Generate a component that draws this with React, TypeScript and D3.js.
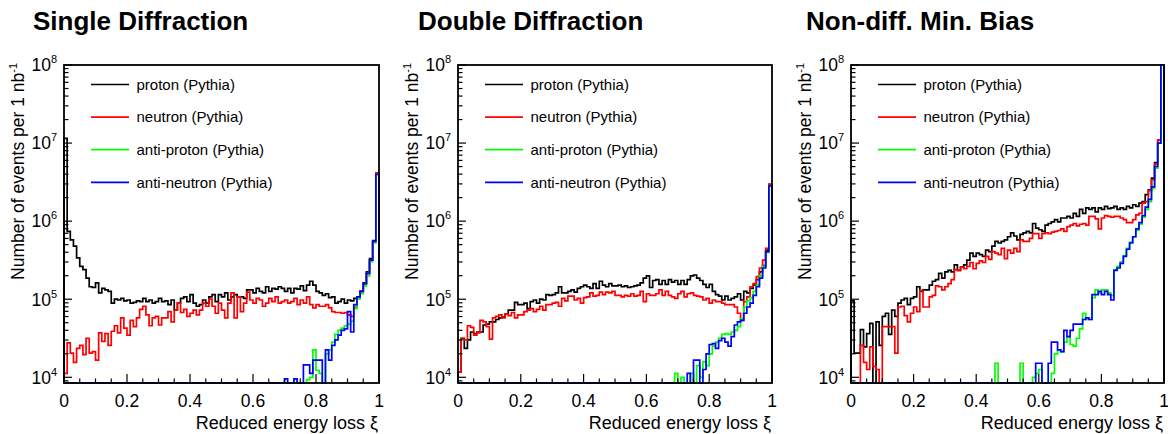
import React from 'react';
import * as d3 from 'd3';

// ---------- data (log10 of events per bin, 100 bins over xi in [0,1]; 0 = empty bin) ----------
const panelTitles = ['Single Diffraction', 'Double Diffraction', 'Non-diff. Min. Bias'];
const seriesNames = ['proton (Pythia)', 'neutron (Pythia)', 'anti-proton (Pythia)', 'anti-neutron (Pythia)'];
const seriesColors = ['#000000', '#ff0000', '#00ff00', '#0000ff'];
const xTickValues = [0, 0.2, 0.4, 0.6, 0.8, 1];
const xTickLabels = ['0', '0.2', '0.4', '0.6', '0.8', '1'];
const yDecades = [4, 5, 6, 7, 8];
const xTitle = 'Reduced energy loss ξ';
const yTitle = 'Number of events per 1 nb';
const yTitleSup = '-1';

const sdProton = [
  7.06, 5.87, 5.76, 5.68, 5.53, 5.42, 5.38, 5.27, 5.16, 5.15,
  5.21, 5.08, 5.14, 5.12, 5.10, 4.95, 5.00, 4.99, 5.01, 4.98,
  4.99, 4.95, 4.96, 4.98, 4.97, 5.01, 4.97, 4.99, 4.95, 4.97,
  5.01, 4.97, 4.98, 4.93, 4.99, 4.86, 4.95, 5.01, 5.03, 4.97,
  5.06, 4.95, 4.91, 4.93, 4.99, 4.95, 5.03, 5.06, 4.97, 5.06,
  5.03, 5.08, 4.99, 5.03, 5.06, 5.03, 5.03, 5.01, 5.12, 5.12,
  5.08, 5.14, 5.10, 5.08, 5.16, 5.10, 5.14, 5.13, 5.16, 5.14,
  5.10, 5.14, 5.08, 5.14, 5.13, 5.17, 5.11, 5.18, 5.23, 5.18,
  5.10, 5.08, 5.05, 5.07, 5.02, 5.03, 4.95, 4.97, 5.00, 4.95,
  4.99, 4.98, 5.01, 5.03, 5.10, 5.21, 5.35, 5.52, 5.75, 6.62,
];
const sdNeutron = [
  4.05, 4.44, 4.31, 4.19, 4.37, 4.41, 4.29, 4.50, 4.31, 4.33,
  4.22, 4.57, 4.46, 4.56, 4.41, 4.59, 4.66, 4.57, 4.76, 4.63,
  4.54, 4.73, 4.65, 4.76, 4.87, 4.91, 4.80, 4.66, 4.76, 4.78,
  4.67, 4.76, 4.76, 4.84, 4.71, 4.86, 4.95, 4.83, 4.87, 4.78,
  4.82, 4.86, 4.80, 4.86, 4.95, 4.91, 5.00, 4.91, 4.82, 4.95,
  4.86, 4.76, 4.95, 5.08, 4.76, 5.03, 4.84, 4.95, 5.09, 4.99,
  4.95, 5.01, 4.99, 4.91, 4.95, 5.01, 4.97, 5.03, 4.95, 4.97,
  4.99, 4.95, 4.97, 5.01, 4.93, 4.99, 4.95, 5.03, 4.93, 4.89,
  4.93, 4.91, 4.91, 4.93, 4.89, 4.84, 4.83, 4.83, 4.82, 4.83,
  4.80, 4.78, 4.90, 5.03, 5.10, 5.20, 5.33, 5.50, 5.74, 6.62,
];
const sdAntiProton = [
  0, 0, 0, 0, 0, 0, 0, 0, 0, 0,
  0, 0, 0, 0, 0, 0, 0, 0, 0, 0,
  0, 0, 0, 0, 0, 0, 0, 0, 0, 0,
  0, 0, 0, 0, 0, 0, 0, 0, 0, 0,
  0, 0, 0, 0, 0, 0, 0, 0, 0, 0,
  0, 0, 0, 0, 0, 0, 0, 0, 0, 0,
  0, 0, 0, 0, 0, 0, 0, 0, 0, 0,
  0, 0, 0, 3.98, 0, 0, 0, 3.97, 4.00, 4.35,
  4.09, 4.05, 0, 4.30, 4.35, 4.45, 4.55, 4.60, 4.63, 4.66,
  4.68, 4.72, 4.88, 5.00, 5.07, 5.17, 5.30, 5.48, 5.72, 6.60,
];
const sdAntiNeutron = [
  0, 0, 0, 0, 0, 0, 0, 0, 0, 0,
  0, 0, 0, 0, 0, 0, 0, 0, 0, 0,
  0, 0, 0, 0, 0, 0, 0, 0, 0, 0,
  0, 0, 0, 0, 0, 0, 0, 0, 0, 0,
  0, 0, 0, 0, 0, 0, 0, 0, 0, 0,
  0, 0, 0, 0, 0, 0, 0, 0, 0, 0,
  0, 0, 0, 0, 0, 0, 0, 0, 0, 0,
  3.98, 0, 0, 3.98, 0, 0, 4.16, 4.16, 4.05, 4.22,
  4.22, 4.22, 0, 4.35, 4.22, 4.41, 4.48, 4.54, 4.60, 4.62,
  4.84, 4.58, 4.93, 5.03, 5.10, 5.20, 5.33, 5.50, 5.74, 6.60,
];

const ddProton = [
  4.07, 4.50, 4.37, 4.48, 4.58, 4.56, 4.58, 4.58, 4.67, 4.68,
  4.71, 4.71, 4.74, 4.76, 4.77, 4.81, 4.86, 4.86, 4.96, 4.93,
  4.93, 4.95, 4.88, 4.97, 4.99, 4.95, 5.00, 4.99, 5.06, 5.05,
  5.06, 5.08, 5.16, 5.08, 5.08, 5.10, 5.12, 5.09, 5.14, 5.16,
  5.18, 5.16, 5.14, 5.20, 5.14, 5.23, 5.18, 5.16, 5.20, 5.17,
  5.17, 5.18, 5.16, 5.17, 5.15, 5.16, 5.17, 5.18, 5.21, 5.27,
  5.30, 5.15, 5.24, 5.25, 5.19, 5.24, 5.19, 5.25, 5.22, 5.24,
  5.19, 5.24, 5.19, 5.25, 5.30, 5.31, 5.27, 5.24, 5.19, 5.15,
  5.19, 5.10, 5.06, 5.04, 4.99, 5.04, 4.99, 5.01, 5.03, 5.07,
  4.99, 5.10, 5.08, 5.14, 5.18, 5.25, 5.35, 5.43, 5.63, 6.47,
];
const ddNeutron = [
  4.07, 4.49, 4.48, 4.66, 4.64, 4.54, 4.57, 4.73, 4.71, 4.65,
  4.49, 4.76, 4.78, 4.80, 4.76, 4.81, 4.79, 4.83, 4.76, 4.80,
  4.80, 4.84, 4.86, 4.88, 4.84, 4.87, 4.91, 4.86, 4.93, 4.93,
  4.95, 4.96, 4.91, 5.01, 4.98, 5.04, 5.04, 4.99, 5.01, 4.95,
  5.02, 5.03, 5.08, 5.04, 5.05, 5.09, 5.06, 5.09, 5.08, 5.10,
  5.05, 5.05, 5.03, 5.05, 5.04, 5.07, 5.04, 5.05, 5.10, 4.97,
  5.07, 5.05, 5.05, 5.07, 5.12, 5.05, 5.10, 5.05, 5.03, 5.01,
  5.07, 5.10, 5.03, 5.07, 5.08, 5.05, 5.04, 5.03, 4.99, 5.01,
  4.95, 4.99, 4.97, 4.97, 4.95, 4.93, 4.93, 4.93, 4.90, 4.82,
  4.73, 4.97, 5.03, 5.16, 5.20, 5.29, 5.40, 5.50, 5.65, 6.47,
];
const ddAntiProton = [
  0, 0, 0, 0, 0, 0, 0, 0, 0, 0,
  0, 0, 0, 0, 0, 0, 0, 0, 0, 0,
  0, 0, 0, 0, 0, 0, 0, 0, 0, 0,
  0, 0, 0, 0, 0, 0, 0, 0, 0, 0,
  0, 0, 0, 0, 0, 0, 0, 0, 0, 0,
  0, 0, 0, 0, 0, 0, 0, 0, 0, 0,
  0, 0, 0, 0, 0, 0, 0, 0, 0, 4.05,
  0, 4.00, 0, 0, 4.05, 0, 4.15, 4.00, 4.20, 4.15,
  4.30, 4.40, 4.45, 4.50, 4.55, 4.56, 4.55, 4.58, 4.60, 4.65,
  4.75, 4.90, 4.98, 5.02, 5.10, 5.18, 5.30, 5.42, 5.60, 6.45,
];
const ddAntiNeutron = [
  0, 0, 0, 0, 0, 0, 0, 0, 0, 0,
  0, 0, 0, 0, 0, 0, 0, 0, 0, 0,
  0, 0, 0, 0, 0, 0, 0, 0, 0, 0,
  0, 0, 0, 0, 0, 0, 0, 0, 0, 0,
  0, 0, 0, 0, 0, 0, 0, 0, 0, 0,
  0, 0, 0, 0, 0, 0, 0, 0, 0, 0,
  0, 0, 0, 0, 0, 0, 0, 0, 0, 0,
  0, 0, 0, 4.05, 0, 4.22, 4.22, 0, 4.10, 4.30,
  4.42, 4.43, 4.37, 4.47, 4.50, 4.45, 4.40, 4.52, 4.67, 4.71,
  4.73, 4.82, 4.90, 4.95, 5.05, 5.16, 5.27, 5.40, 5.61, 6.45,
];

const ndProton = [
  4.98, 4.31, 4.31, 4.61, 4.39, 4.56, 4.69, 0, 4.71, 4.41,
  4.78, 4.82, 4.55, 4.86, 4.78, 4.95, 4.99, 5.01, 4.93, 5.01,
  5.03, 5.16, 5.10, 5.12, 5.12, 5.18, 5.23, 5.25, 5.33, 5.27,
  5.35, 5.37, 5.35, 5.44, 5.37, 5.41, 5.44, 5.50, 5.59, 5.55,
  5.59, 5.57, 5.55, 5.63, 5.61, 5.68, 5.74, 5.72, 5.74, 5.76,
  5.80, 5.85, 5.81, 5.76, 5.83, 5.85, 5.87, 5.85, 5.97, 5.91,
  5.89, 5.87, 5.95, 5.97, 5.99, 6.02, 5.99, 6.04, 6.04, 6.06,
  6.04, 6.10, 6.06, 6.15, 6.10, 6.17, 6.15, 6.17, 6.12, 6.17,
  6.15, 6.19, 6.16, 6.17, 6.19, 6.15, 6.17, 6.15, 6.19, 6.17,
  6.21, 6.19, 6.23, 6.25, 6.34, 6.40, 6.55, 6.75, 7.04, 8.10,
];
const ndNeutron = [
  0, 0, 0, 4.41, 4.19, 4.10, 4.39, 4.14, 4.10, 0,
  4.65, 4.65, 4.65, 4.65, 4.31, 4.90, 4.91, 4.79, 4.71, 4.82,
  4.90, 4.84, 5.11, 4.90, 4.90, 5.03, 5.05, 5.17, 5.16, 5.12,
  5.16, 5.20, 5.25, 5.38, 5.37, 5.41, 5.39, 5.42, 5.47, 5.39,
  5.46, 5.49, 5.47, 5.55, 5.51, 5.61, 5.59, 5.57, 5.65, 5.52,
  5.63, 5.59, 5.65, 5.61, 5.76, 5.74, 5.74, 5.78, 5.84, 5.84,
  5.78, 5.84, 5.85, 5.84, 5.86, 5.87, 5.88, 5.90, 5.87, 5.93,
  5.95, 5.97, 5.94, 5.96, 5.97, 5.95, 6.06, 6.06, 6.03, 5.90,
  6.04, 6.07, 6.06, 6.05, 6.06, 6.06, 6.04, 6.02, 5.98, 5.98,
  6.02, 6.08, 6.10, 6.23, 6.25, 6.39, 6.53, 6.73, 7.04, 8.10,
];
const ndAntiProton = [
  0, 0, 0, 0, 0, 0, 0, 0, 0, 0,
  0, 0, 0, 0, 0, 0, 0, 0, 0, 0,
  0, 0, 0, 0, 0, 0, 0, 0, 0, 0,
  0, 0, 0, 0, 0, 0, 0, 0, 0, 0,
  0, 0, 0, 0, 0, 0, 4.18, 0, 0, 0,
  0, 0, 0, 0, 4.18, 0, 0, 0, 4.00, 4.05,
  4.10, 0, 0, 0, 4.05, 4.30, 4.35, 4.33, 4.45, 4.52,
  4.42, 4.40, 4.50, 4.62, 4.82, 4.74, 4.74, 5.02, 5.12, 5.08,
  5.12, 5.12, 5.08, 5.05, 5.38, 5.42, 5.48, 5.56, 5.65, 5.73,
  5.80, 5.88, 5.96, 6.05, 6.15, 6.25, 6.42, 6.68, 7.00, 8.10,
];
const ndAntiNeutron = [
  0, 0, 0, 0, 0, 0, 0, 0, 0, 0,
  0, 0, 0, 0, 0, 0, 0, 0, 0, 0,
  0, 0, 0, 0, 0, 0, 0, 0, 0, 0,
  0, 0, 0, 0, 0, 0, 0, 0, 0, 0,
  0, 0, 0, 0, 0, 0, 0, 0, 0, 0,
  0, 0, 0, 0, 0, 0, 0, 0, 0, 4.18,
  4.18, 0, 0, 4.18, 4.45, 4.45, 4.35, 4.33, 4.60, 4.52,
  4.60, 4.68, 4.68, 4.68, 4.74, 4.76, 4.74, 5.06, 5.06, 5.10,
  5.06, 5.10, 5.06, 4.99, 5.37, 5.40, 5.46, 5.55, 5.64, 5.72,
  5.80, 5.90, 5.98, 6.07, 6.18, 6.28, 6.44, 6.70, 7.00, 8.10,
];

const panelSeries = [
  [sdProton, sdNeutron, sdAntiProton, sdAntiNeutron],
  [ddProton, ddNeutron, ddAntiProton, ddAntiNeutron],
  [ndProton, ndNeutron, ndAntiProton, ndAntiNeutron],
];

// ---------- layout ----------
const W = 1168;
const H = 434;
const FONT = '"Liberation Sans", Arial, Helvetica, sans-serif';
const frameLeft = [64, 458, 851];
const frameRight = [379, 772, 1164];
const titleX = [33, 418, 806];
const frameTop = 65;
const frameBottom = 383;
const yMin = 8450;
const yMax = 1e8;

function Panel({ k }: { k: number }) {
  const L = frameLeft[k];
  const R = frameRight[k];
  const x = d3.scaleLinear().domain([0, 1]).range([L, R]);
  const y = d3.scaleLog().domain([yMin, yMax]).range([frameBottom, frameTop]);
  const yv = (lv: number) => {
    const v = lv > 0 ? Math.pow(10, lv) : 0;
    return y(Math.min(Math.max(v, yMin), yMax));
  };
  const line = d3
    .line<[number, number]>()
    .x((d) => d[0])
    .y((d) => d[1])
    .curve(d3.curveStepAfter);

  const paths = panelSeries[k].map((vals) => {
    const n = vals.length;
    const pts: [number, number][] = [[x(0), y(yMin)]];
    vals.forEach((v, i) => pts.push([x(i / n), yv(v)]));
    pts.push([x(1), yv(vals[n - 1])]);
    pts.push([x(1), y(yMin)]);
    return line(pts) as string;
  });

  const xMinor = d3.range(0, 1.0001, 0.05).filter((t) => Math.abs(t / 0.2 - Math.round(t / 0.2)) > 1e-6);
  const yMinor: number[] = [];
  for (let e = 3; e < 8; e++) {
    for (let m = 2; m <= 9; m++) {
      const v = m * Math.pow(10, e);
      if (v >= yMin && v <= yMax) yMinor.push(v);
    }
  }

  const yTitleX = L - 40;

  return (
    <g>
      <text x={titleX[k]} y={30} fontFamily={FONT} fontWeight="bold" fontSize={26} fill="#000">
        {panelTitles[k]}
      </text>

      {/* histograms */}
      {paths.map((d, i) => (
        <path key={i} d={d} fill="none" stroke={seriesColors[i]} strokeWidth={1.7} />
      ))}

      {/* frame */}
      <rect x={L} y={frameTop} width={R - L} height={frameBottom - frameTop} fill="none" stroke="#000" strokeWidth={1.8} />

      {/* x ticks */}
      {xTickValues.map((t) => (
        <line key={'xM' + t} x1={x(t)} x2={x(t)} y1={frameBottom} y2={frameBottom - 9} stroke="#000" strokeWidth={1.2} />
      ))}
      {xMinor.map((t) => (
        <line key={'xm' + t} x1={x(t)} x2={x(t)} y1={frameBottom} y2={frameBottom - 4.5} stroke="#000" strokeWidth={1.2} />
      ))}
      {xTickValues.map((t, i) => (
        <text key={'xl' + t} x={x(t)} y={407} textAnchor="middle" fontFamily={FONT} fontSize={17.5} fill="#000">
          {xTickLabels[i]}
        </text>
      ))}
      <text x={R - 1} y={429} textAnchor="end" fontFamily={FONT} fontSize={18} fill="#000">
        {xTitle}
      </text>

      {/* y ticks */}
      {yDecades.map((e) => (
        <line key={'yM' + e} x1={L} x2={L + 8} y1={y(Math.pow(10, e))} y2={y(Math.pow(10, e))} stroke="#000" strokeWidth={1.2} />
      ))}
      {yMinor.map((v) => (
        <line key={'ym' + v} x1={L} x2={L + 4.5} y1={y(v)} y2={y(v)} stroke="#000" strokeWidth={1.2} />
      ))}
      {yDecades.map((e) => (
        <text key={'yl' + e} x={L - 7} y={y(Math.pow(10, e)) + 6.3} textAnchor="end" fontFamily={FONT} fontSize={17.5} fill="#000">
          10
          <tspan fontSize={11} dy={-8}>
            {String(e)}
          </tspan>
        </text>
      ))}
      <text
        transform={`translate(${yTitleX},${frameTop - 2}) rotate(-90)`}
        textAnchor="end"
        fontFamily={FONT}
        fontSize={17.5}
        fill="#000"
      >
        {yTitle}
        <tspan fontSize={11} dy={-7}>
          {yTitleSup}
        </tspan>
      </text>

      {/* legend */}
      {seriesNames.map((name, i) => {
        const ly = 84.5 + 32.6 * i;
        return (
          <g key={name}>
            <line x1={L + 27} x2={L + 65} y1={ly} y2={ly} stroke={seriesColors[i]} strokeWidth={1.7} />
            <text x={L + 72.5} y={ly + 5.3} fontFamily={FONT} fontSize={15} fill="#000">
              {name}
            </text>
          </g>
        );
      })}
    </g>
  );
}

export default function App() {
  return (
    <svg
      width={W}
      height={H}
      viewBox={`0 0 ${W} ${H}`}
      style={{ position: 'absolute', left: 0, top: 0, background: '#fff' }}
    >
      <rect x={0} y={0} width={W} height={H} fill="#fff" />
      {[0, 1, 2].map((k) => (
        <Panel key={k} k={k} />
      ))}
    </svg>
  );
}
